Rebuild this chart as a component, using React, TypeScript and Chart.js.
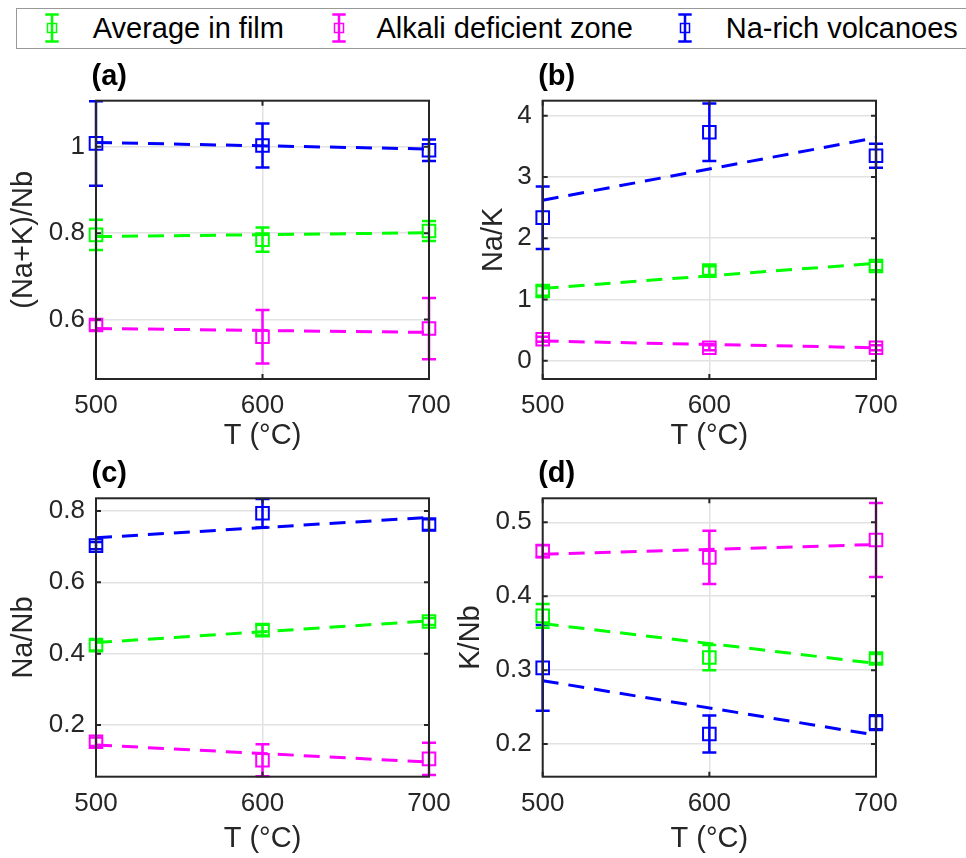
import React, { useEffect, useRef } from 'react';
import { Chart, registerables } from 'chart.js';

Chart.register(...registerables);

// ---------- data ----------
const temperatures = [500, 600, 700];
const xTicks = [500, 600, 700];
const fitX = [500, 700];
const xTitle = 'T (°C)';
const seriesNames = ['Average in film', 'Alkali deficient zone', 'Na-rich volcanoes'];
const seriesColors = ['#00ff00', '#ff00ff', '#0000ff'];

// (a) (Na+K)/Nb
const aAverage = [0.796, 0.785, 0.805];
const aAverageErr = [0.035, 0.028, 0.023];
const aDeficient = [0.587, 0.560, 0.579];
const aDeficientErr = [0.012, 0.062, 0.071];
const aNaRich = [1.008, 1.003, 0.992];
const aNaRichErr = [0.098, 0.051, 0.025];
const aFitAverage = [0.792, 0.801];
const aFitDeficient = [0.579, 0.570];
const aFitNaRich = [1.010, 0.995];
const aYTicks = [0.6, 0.8, 1];
const aYTickLabels = ['0.6', '0.8', '1'];
const aYRange = [0.462, 1.107];

// (b) Na/K
const bAverage = [1.138, 1.47, 1.546];
const bAverageErr = [0.08, 0.07, 0.07];
const bDeficient = [0.35, 0.21, 0.21];
const bDeficientErr = [0.04, 0.04, 0.04];
const bNaRich = [2.335, 3.73, 3.345];
const bNaRichErr = [0.51, 0.47, 0.195];
const bFitAverage = [1.18, 1.59];
const bFitDeficient = [0.32, 0.21];
const bFitNaRich = [2.62, 3.64];
const bYTicks = [0, 1, 2, 3, 4];
const bYTickLabels = ['0', '1', '2', '3', '4'];
const bYRange = [-0.3, 4.245];

// (c) Na/Nb
const cAverage = [0.424, 0.466, 0.49];
const cAverageErr = [0.015, 0.015, 0.01];
const cDeficient = [0.153, 0.101, 0.105];
const cDeficientErr = [0.012, 0.045, 0.045];
const cNaRich = [0.703, 0.7935, 0.762];
const cNaRichErr = [0.01, 0.04, 0.015];
const cFitAverage = [0.431, 0.492];
const cFitDeficient = [0.144, 0.096];
const cFitNaRich = [0.725, 0.782];
const cYTicks = [0.2, 0.4, 0.6, 0.8];
const cYTickLabels = ['0.2', '0.4', '0.6', '0.8'];
const cYRange = [0.055, 0.8356];

// (d) K/Nb
const dAverage = [0.3734, 0.317, 0.3157];
const dAverageErr = [0.016, 0.017, 0.006];
const dDeficient = [0.461, 0.4526, 0.476];
const dDeficientErr = [0.008, 0.036, 0.05];
const dNaRich = [0.303, 0.2135, 0.229];
const dNaRichErr = [0.058, 0.025, 0.01];
const dFitAverage = [0.363, 0.309];
const dFitDeficient = [0.4567, 0.470];
const dFitNaRich = [0.2857, 0.212];
const dYTicks = [0.2, 0.3, 0.4, 0.5];
const dYTickLabels = ['0.2', '0.3', '0.4', '0.5'];
const dYRange = [0.1558, 0.5325];

// ---------- styling ----------
const FONT = "'Liberation Sans', Arial, Helvetica, sans-serif";
const TEXT = '#262626';

type PanelSpec = {
  letter: string;
  yTitle: string;
  values: number[][];
  errors: number[][];
  fits: number[][];
  yTicks: number[];
  yTickLabels: string[];
  yRange: number[];
};

type Box = {
  left: number; top: number; width: number; height: number;
  yWidth: number; padRight: number; padTop: number; xHeight: number; xTitlePad: number;
};

const panels: { spec: PanelSpec; box: Box }[] = [
  {
    spec: {
      letter: '(a)', yTitle: '(Na+K)/Nb',
      values: [aAverage, aDeficient, aNaRich], errors: [aAverageErr, aDeficientErr, aNaRichErr],
      fits: [aFitAverage, aFitDeficient, aFitNaRich],
      yTicks: aYTicks, yTickLabels: aYTickLabels, yRange: aYRange,
    },
    box: { left: 0, top: 50, width: 470, height: 400, yWidth: 96, padRight: 41, padTop: 50.7, xHeight: 71, xTitlePad: 0 },
  },
  {
    spec: {
      letter: '(b)', yTitle: 'Na/K',
      values: [bAverage, bDeficient, bNaRich], errors: [bAverageErr, bDeficientErr, bNaRichErr],
      fits: [bFitAverage, bFitDeficient, bFitNaRich],
      yTicks: bYTicks, yTickLabels: bYTickLabels, yRange: bYRange,
    },
    box: { left: 470, top: 50, width: 496, height: 400, yWidth: 72.7, padRight: 90, padTop: 50.7, xHeight: 71, xTitlePad: 0 },
  },
  {
    spec: {
      letter: '(c)', yTitle: 'Na/Nb',
      values: [cAverage, cDeficient, cNaRich], errors: [cAverageErr, cDeficientErr, cNaRichErr],
      fits: [cFitAverage, cFitDeficient, cFitNaRich],
      yTicks: cYTicks, yTickLabels: cYTickLabels, yRange: cYRange,
    },
    box: { left: 0, top: 450, width: 470, height: 408, yWidth: 96, padRight: 41, padTop: 48.3, xHeight: 81.3, xTitlePad: 4.5 },
  },
  {
    spec: {
      letter: '(d)', yTitle: 'K/Nb',
      values: [dAverage, dDeficient, dNaRich], errors: [dAverageErr, dDeficientErr, dNaRichErr],
      fits: [dFitAverage, dFitDeficient, dFitNaRich],
      yTicks: dYTicks, yTickLabels: dYTickLabels, yRange: dYRange,
    },
    box: { left: 447, top: 450, width: 519, height: 408, yWidth: 95.7, padRight: 90, padTop: 48.3, xHeight: 81.3, xTitlePad: 4.5 },
  },
];

// error bars drawn right after each marker dataset
const errorBarPlugin = {
  id: 'errorBars',
  afterDatasetDraw(chart: any, args: any) {
    const ds = chart.data.datasets[args.index];
    if (!ds.errors) return;
    const ctx = chart.ctx;
    const xs = chart.scales.x;
    const ys = chart.scales.y;
    ctx.save();
    ctx.strokeStyle = ds.borderColor;
    ctx.lineWidth = 2.5;
    ctx.lineCap = 'butt';
    ds.data.forEach((p: any, i: number) => {
      const e = ds.errors[i];
      const x = xs.getPixelForValue(p.x);
      const yt = ys.getPixelForValue(p.y + e);
      const yb = ys.getPixelForValue(p.y - e);
      ctx.beginPath();
      ctx.moveTo(x, yt);
      ctx.lineTo(x, yb);
      ctx.moveTo(x - 7, yt);
      ctx.lineTo(x + 7, yt);
      ctx.moveTo(x - 7, yb);
      ctx.lineTo(x + 7, yb);
      ctx.stroke();
    });
    ctx.restore();
  },
};

// axes box, inward ticks and the panel letter
const framePlugin = {
  id: 'frame',
  afterDraw(chart: any) {
    const ctx = chart.ctx;
    const a = chart.chartArea;
    const xs = chart.scales.x;
    const ys = chart.scales.y;
    const tl = 5;
    ctx.save();
    ctx.strokeStyle = TEXT;
    ctx.lineWidth = 2;
    ctx.beginPath();
    xs.ticks.forEach((t: any) => {
      const x = xs.getPixelForValue(t.value);
      ctx.moveTo(x, a.bottom);
      ctx.lineTo(x, a.bottom - tl);
      ctx.moveTo(x, a.top);
      ctx.lineTo(x, a.top + tl);
    });
    ys.ticks.forEach((t: any) => {
      const y = ys.getPixelForValue(t.value);
      ctx.moveTo(a.left, y);
      ctx.lineTo(a.left + tl, y);
      ctx.moveTo(a.right, y);
      ctx.lineTo(a.right - tl, y);
    });
    ctx.stroke();
    ctx.strokeRect(a.left, a.top, a.right - a.left, a.bottom - a.top);
    const letter = chart.options.plugins.frame?.letter;
    if (letter) {
      ctx.fillStyle = '#000';
      ctx.font = `bold 29px ${FONT}`;
      ctx.textAlign = 'left';
      ctx.textBaseline = 'middle';
      ctx.fillText(letter, a.left - 4.5, a.top - 24);
    }
    ctx.restore();
  },
};

function PanelChart({ spec, box }: { spec: PanelSpec; box: Box }) {
  const ref = useRef<HTMLCanvasElement>(null);
  useEffect(() => {
    if (!ref.current) return;
    const fitSets = spec.fits.map((f, s) => ({
      label: seriesNames[s] + ' fit',
      data: fitX.map((x, i) => ({ x, y: f[i] })),
      borderColor: seriesColors[s],
      borderWidth: 3,
      borderDash: [16, 10],
      pointRadius: 0,
      showLine: true,
      fill: false,
      clip: false,
    }));
    const markerSets = spec.values.map((v, s) => ({
      label: seriesNames[s],
      data: temperatures.map((x, i) => ({ x, y: v[i] })),
      errors: spec.errors[s],
      borderColor: seriesColors[s],
      backgroundColor: 'rgba(0,0,0,0)',
      showLine: false,
      pointStyle: 'rect',
      pointRadius: 8.9,
      pointBorderWidth: 2,
      pointBorderColor: seriesColors[s],
      pointBackgroundColor: 'rgba(0,0,0,0)',
      clip: false,
    }));
    const chart = new Chart(ref.current, {
      type: 'line',
      data: { datasets: [...fitSets, ...markerSets] as any },
      plugins: [errorBarPlugin, framePlugin],
      options: {
        responsive: false,
        animation: false,
        events: [],
        layout: { padding: { left: 0, right: box.padRight, top: box.padTop, bottom: 0 } },
        plugins: {
          legend: { display: false },
          tooltip: { enabled: false },
          title: { display: false },
          frame: { letter: spec.letter },
        } as any,
        scales: {
          x: {
            type: 'linear',
            min: xTicks[0],
            max: xTicks[xTicks.length - 1],
            afterBuildTicks: (s: any) => { s.ticks = xTicks.map((v) => ({ value: v })); },
            afterFit: (s: any) => { s.height = box.xHeight; },
            grid: { color: '#e2e2e2', lineWidth: 1.5, drawTicks: false },
            border: { display: false },
            ticks: {
              color: TEXT,
              font: { family: FONT, size: 26, lineHeight: 1 },
              padding: 14,
              maxRotation: 0,
              autoSkip: false,
              callback: (v: any) => String(v),
            },
            title: {
              display: true,
              text: xTitle,
              color: TEXT,
              font: { family: FONT, size: 29, lineHeight: 1 },
              padding: { top: 0, bottom: box.xTitlePad },
            },
          },
          y: {
            type: 'linear',
            min: spec.yRange[0],
            max: spec.yRange[1],
            afterBuildTicks: (s: any) => { s.ticks = spec.yTicks.map((v) => ({ value: v })); },
            afterFit: (s: any) => { s.width = box.yWidth; },
            grid: { color: '#e2e2e2', lineWidth: 1.5, drawTicks: false },
            border: { display: false },
            ticks: {
              color: TEXT,
              font: { family: FONT, size: 26, lineHeight: 1 },
              padding: 11,
              callback: (_v: any, i: number) => spec.yTickLabels[i],
            },
            title: {
              display: true,
              text: spec.yTitle,
              color: TEXT,
              font: { family: FONT, size: 29, lineHeight: 1 },
              padding: { top: 9.5, bottom: 0 },
            },
          },
        },
      } as any,
    });
    return () => chart.destroy();
  }, [spec, box]);
  return (
    <canvas
      ref={ref}
      width={box.width}
      height={box.height}
      style={{ position: 'absolute', left: box.left, top: box.top, width: box.width, height: box.height }}
    />
  );
}

const legendIconX = [51.7, 339, 685];
const legendTextX = [92.7, 376.5, 725.7];

function LegendIcon({ color, x }: { color: string; x: number }) {
  return (
    <svg
      width={20}
      height={32}
      style={{ position: 'absolute', left: x - 10, top: 12 }}
    >
      <g stroke={color} fill="none">
        <line x1={10} y1={2} x2={10} y2={30} strokeWidth={2.5} />
        <line x1={3.3} y1={2.5} x2={16.7} y2={2.5} strokeWidth={2.5} />
        <line x1={3.3} y1={29.5} x2={16.7} y2={29.5} strokeWidth={2.5} />
        <rect x={5.5} y={11.5} width={9} height={9} strokeWidth={1.5} />
      </g>
    </svg>
  );
}

export default function App() {
  return (
    <div
      style={{
        position: 'fixed', left: 0, top: 0, width: 966, height: 858,
        background: '#fff', overflow: 'hidden', fontFamily: FONT,
      }}
    >
      <div
        style={{
          position: 'absolute', left: 16, top: 8, width: 970, height: 39,
          border: '1px solid #999', background: '#fff', boxSizing: 'content-box',
        }}
      />
      {seriesNames.map((n, i) => (
        <React.Fragment key={n}>
          <LegendIcon color={seriesColors[i]} x={legendIconX[i]} />
          <span
            style={{
              position: 'absolute', left: legendTextX[i], top: 13.8,
              fontSize: 29, lineHeight: '29px', color: '#000', whiteSpace: 'nowrap',
            }}
          >
            {n}
          </span>
        </React.Fragment>
      ))}
      {panels.map((p) => (
        <PanelChart key={p.spec.letter} spec={p.spec} box={p.box} />
      ))}
    </div>
  );
}
